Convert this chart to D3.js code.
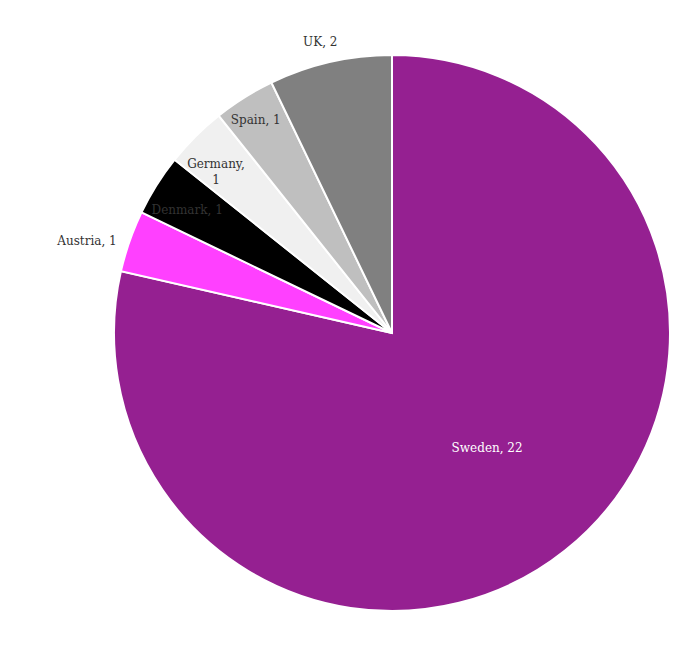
<!DOCTYPE html>
<html><head><meta charset="utf-8">
<script src="https://cdn.jsdelivr.net/npm/d3@7"></script>
<style>body{margin:0;background:#fff}svg{display:block}</style>
</head><body>
<script>
const countries = ["Sweden","Austria","Denmark","Germany","Spain","UK"];
const values = [22,1,1,1,1,2];
const colors = ["#952091","#ff40ff","#000000","#f0f0f0","#bfbfbf","#808080"];
const textColors = ["#ffffff","#333333","#333333","#333333","#333333","#333333"];
const labelRadius = [0.537,1.146,0.86,0.86,0.909,1.078];
const labelAngleShift = [-1.0,-2.5,-1.1,-2.4,-0.5,-1.0];

const W=682,H=658,cx=392,cy=333,R=278;
const svg=d3.select("body").append("svg").attr("width",W).attr("height",H);
const g=svg.append("g").attr("transform",`translate(${cx},${cy})`);
const data=countries.map((c,i)=>({c,v:values[i],i}));
const pie=d3.pie().value(d=>d.v).sort(null);
const arc=d3.arc().innerRadius(0).outerRadius(R);
const arcs=pie(data);
g.selectAll("path").data(arcs).join("path")
 .attr("d",arc).attr("fill",d=>colors[d.data.i])
 .attr("stroke","#fff").attr("stroke-width",2);
const lab=g.selectAll("text").data(arcs).join("text")
 .attr("font-family","'DejaVu Serif',Georgia,serif")
 .attr("font-size",12).attr("text-anchor","middle")
 .attr("fill",d=>textColors[d.data.i])
 .attr("transform",d=>{const a=(d.startAngle+d.endAngle)/2+labelAngleShift[d.data.i]*Math.PI/180, r=R*labelRadius[d.data.i];
   return `translate(${Math.sin(a)*r},${-Math.cos(a)*r})`;});
lab.each(function(d){
  const t=d3.select(this);
  if(d.data.c==="Germany"){
    t.append("tspan").attr("x",0).attr("dy","-0.3em").text(d.data.c+",");
    t.append("tspan").attr("x",0).attr("dy","1.35em").text(d.data.v);
  } else {
    t.attr("dy","0.35em").text(d.data.c+", "+d.data.v);
  }
});
</script>
</body></html>
